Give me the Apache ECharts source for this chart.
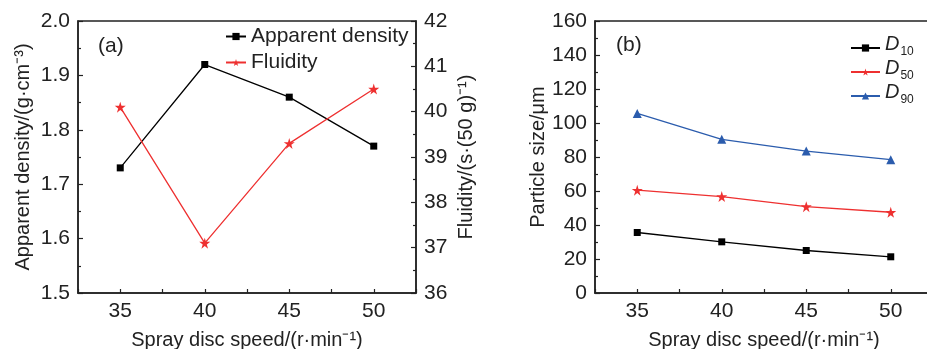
<!DOCTYPE html>
<html>
<head>
<meta charset="utf-8">
<script src="https://cdn.jsdelivr.net/npm/echarts@6/dist/echarts.min.js"></script>
<style>
  html, body { margin: 0; padding: 0; background: #fff; }
  #chart { width: 927px; height: 349px; }
</style>
</head>
<body>
<div id="chart"></div>
<script>
// data
var speeds = [35, 40, 45, 50];
var apparentDensity = [1.73, 1.92, 1.86, 1.77];
var fluidity = [40.1, 37.1, 39.3, 40.5];
var d10 = [35.6, 30.1, 25.0, 21.3];
var d50 = [60.5, 56.7, 50.8, 47.5];
var d90 = [105.6, 90.4, 83.5, 78.4];

var FONT = 'Liberation Sans';
var AXIS_COLOR = '#222';
var RED = '#ee3030';
var BLUE = '#2b5cad';
var STAR = 'path://M50,0 L61,35 L98,35 L68,57 L79,91 L50,70 L21,91 L32,57 L2,35 L39,35 Z';

function pairs(xs, ys) {
    return xs.map(function (x, i) { return [x, ys[i]]; });
}

var dom = document.getElementById('chart');
var myChart = echarts.init(dom, null, { renderer: 'canvas' });

function xAxisFor(gridIndex) {
    return {
        type: 'value',
        gridIndex: gridIndex,
        min: 32.5,
        max: 52.5,
        interval: 2.5,
        name: 'Spray disc speed/(r\u00b7min\u207b\u00b9)',
        nameLocation: 'middle',
        nameGap: 37,
        nameTextStyle: { fontFamily: FONT, fontSize: 20, color: '#222' },
        axisLine: { show: true, lineStyle: { color: AXIS_COLOR, width: 1.5 } },
        axisTick: { inside: true, length: 4, lineStyle: { color: AXIS_COLOR, width: 1.2 } },
        axisLabel: {
            margin: 8,
            fontFamily: FONT,
            fontSize: 21,
            color: '#222',
            formatter: function (v) { return v % 5 === 0 ? String(v) : ''; }
        },
        splitLine: { show: false }
    };
}

function yAxisBase(gridIndex, position, min, max, interval, name, nameGap, fmt) {
    return {
        type: 'value',
        gridIndex: gridIndex,
        position: position,
        min: min,
        max: max,
        interval: interval,
        name: name,
        nameLocation: 'middle',
        nameRotate: 90,
        nameGap: nameGap,
        nameTextStyle: { fontFamily: FONT, fontSize: 20, color: '#222' },
        axisLine: { show: true, lineStyle: { color: AXIS_COLOR, width: 1.5 } },
        axisTick: { inside: true, length: 5, lineStyle: { color: AXIS_COLOR, width: 1.2 } },
        minorTick: { show: true, splitNumber: 2, length: 3, lineStyle: { color: AXIS_COLOR, width: 1.2 } },
        axisLabel: { margin: 8, fontFamily: FONT, fontSize: 21, color: '#222', formatter: fmt },
        splitLine: { show: false }
    };
}

var option = {
    animation: false,
    backgroundColor: '#fff',
    title: [
        { text: '(a)', left: 93, top: 31, textStyle: { fontFamily: FONT, fontSize: 21, fontWeight: 'normal', color: '#222' } },
        { text: '(b)', left: 611, top: 30, textStyle: { fontFamily: FONT, fontSize: 21, fontWeight: 'normal', color: '#222' } }
    ],
    grid: [
        { left: 78, top: 21, width: 338, height: 272, outerBoundsMode: 'none', show: true, borderColor: AXIS_COLOR, borderWidth: 1.5 },
        { left: 595, top: 21, width: 338, height: 272, outerBoundsMode: 'none', show: true, borderColor: AXIS_COLOR, borderWidth: 1.5 }
    ],
    legend: [
        {
            data: ['Apparent density', 'Fluidity'],
            orient: 'vertical',
            left: 220,
            top: 21,
            itemWidth: 20,
            itemHeight: 9,
            itemGap: 5,
            textStyle: { fontFamily: FONT, fontSize: 21, color: '#222' }
        },
        {
            data: ['D10', 'D50', 'D90'],
            orient: 'vertical',
            left: 845,
            top: 29,
            itemWidth: 29,
            itemHeight: 9,
            itemGap: 0,
            formatter: function (name) {
                return '{i|D}{s|' + name.slice(1) + '}';
            },
            textStyle: {
                fontFamily: FONT,
                color: '#222',
                rich: {
                    i: { fontFamily: FONT, fontSize: 20, fontStyle: 'italic', color: '#222', verticalAlign: 'bottom', lineHeight: 20, padding: [0, 0, 4, 0] },
                    s: { fontFamily: FONT, fontSize: 12, color: '#222', verticalAlign: 'bottom', lineHeight: 12, padding: [0, 0, 0, 1] }
                }
            }
        }
    ],
    xAxis: [xAxisFor(0), xAxisFor(1)],
    yAxis: [
        yAxisBase(0, 'left', 1.5, 2.0, 0.1, 'Apparent density/(g\u00b7cm\u207b\u00b3)', 45,
            function (v) { return v.toFixed(1); }),
        yAxisBase(0, 'right', 36, 42, 1, 'Fluidity/(s\u00b7(50 g)\u207b\u00b9)', 40,
            function (v) { return String(v); }),
        yAxisBase(1, 'left', 0, 160, 20, 'Particle size/\u03bcm', 46,
            function (v) { return String(v); })
    ],
    series: [
        {
            name: 'Apparent density', type: 'line', xAxisIndex: 0, yAxisIndex: 0,
            data: pairs(speeds, apparentDensity),
            symbol: 'rect', symbolSize: 7,
            lineStyle: { color: '#000', width: 1.3 }, itemStyle: { color: '#000' }
        },
        {
            name: 'Fluidity', type: 'line', xAxisIndex: 0, yAxisIndex: 1,
            data: pairs(speeds, fluidity),
            symbol: STAR, symbolSize: 11,
            lineStyle: { color: RED, width: 1.3 }, itemStyle: { color: RED }
        },
        {
            name: 'D10', type: 'line', xAxisIndex: 1, yAxisIndex: 2,
            data: pairs(speeds, d10),
            symbol: 'rect', symbolSize: 7,
            lineStyle: { color: '#000', width: 1.3 }, itemStyle: { color: '#000' }
        },
        {
            name: 'D50', type: 'line', xAxisIndex: 1, yAxisIndex: 2,
            data: pairs(speeds, d50),
            symbol: STAR, symbolSize: 11,
            lineStyle: { color: RED, width: 1.3 }, itemStyle: { color: RED }
        },
        {
            name: 'D90', type: 'line', xAxisIndex: 1, yAxisIndex: 2,
            data: pairs(speeds, d90),
            symbol: 'triangle', symbolSize: 9,
            lineStyle: { color: BLUE, width: 1.3 }, itemStyle: { color: BLUE }
        }
    ]
};

myChart.setOption(option);
</script>
</body>
</html>
